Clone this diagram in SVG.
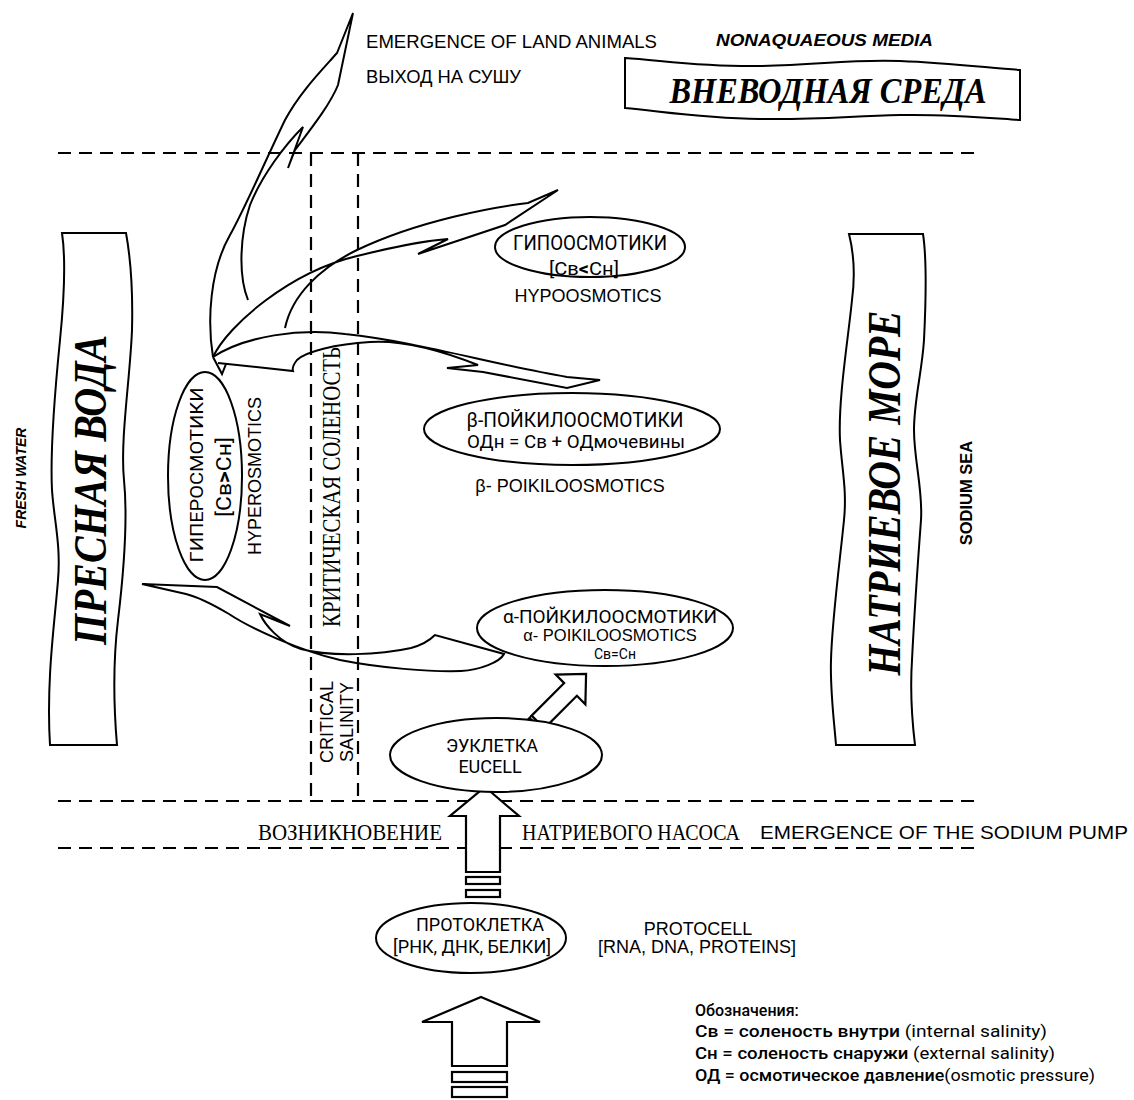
<svg xmlns="http://www.w3.org/2000/svg" width="1134" height="1100" viewBox="0 0 1134 1100">
<defs>
<style>
.ln{fill:none;stroke:#000;stroke-width:2;stroke-linejoin:miter}
.sw{fill:none;stroke:#000;stroke-width:2;stroke-linejoin:miter}
.blk{fill:#fff;stroke:#000;stroke-width:2.2;stroke-linejoin:miter}
.dash{fill:none;stroke:#000;stroke-width:2.2;stroke-dasharray:13 8}
.el{fill:#fff;stroke:#000;stroke-width:2}
.ban{fill:#fff;stroke:#000;stroke-width:2}
.sans{font-family:"Liberation Sans",Arial,sans-serif;fill:#000}
.din{font-family:Roboto,"Liberation Sans",sans-serif;fill:#000}
.serif{font-family:"Liberation Serif","Times New Roman",serif;fill:#000}
.bi{font-weight:bold;font-style:italic}
</style>
</defs>
<rect width="1134" height="1100" fill="#fff"/>

<g id="grid">
<line class="dash" x1="58" y1="153" x2="975" y2="153"/>
<line class="dash" x1="58" y1="801" x2="975" y2="801"/>
<line class="dash" x1="58" y1="848" x2="975" y2="848"/>
<line class="dash" x1="311" y1="153" x2="311" y2="801"/>
<line class="dash" x1="358" y1="153" x2="358" y2="801"/>
</g>

<g id="labels-top">
<text class="sans" x="366" y="48" font-size="18" textLength="291" lengthAdjust="spacingAndGlyphs">EMERGENCE OF LAND ANIMALS</text>
<text class="sans" x="366" y="83" font-size="18" textLength="155" lengthAdjust="spacingAndGlyphs">ВЫХОД НА СУШУ</text>
<text class="sans bi" x="716" y="46" font-size="17" textLength="217" lengthAdjust="spacingAndGlyphs">NONAQUAEOUS MEDIA</text>
</g>

<g id="banner-nonaqueous">
<path class="ban" d="M625,58 C660,60 700,67 760,66 C820,65 850,59 900,61 C950,63 990,68 1020,70 L1020,120 C990,118 950,114 900,115 C850,116 820,120 760,119 C700,118 660,111 625,108 Z"/>
<text class="serif bi" x="828" y="103" font-size="36" text-anchor="middle" textLength="317" lengthAdjust="spacingAndGlyphs">ВНЕВОДНАЯ СРЕДА</text>
</g>

<g id="banner-fresh">
<path class="ban" d="M62,233 C66,260 64,300 60,340 C56,380 50,450 52,490 C54,520 61,545 58,580 C55,620 46,680 50,745 L117,745 C114,710 112,670 118,620 C124,570 128,520 124,480 C120,440 130,380 132,330 C133,290 130,255 126,233 Z"/>
<text class="serif bi" transform="translate(106,490) rotate(-90)" font-size="46" text-anchor="middle" textLength="310" lengthAdjust="spacingAndGlyphs">ПРЕСНАЯ ВОДА</text>
<text class="sans bi" transform="translate(26,478) rotate(-90)" font-size="14" text-anchor="middle">FRESH WATER</text>
</g>

<g id="banner-sea">
<path class="ban" d="M849,234 C853,250 856,270 852,300 C848,340 838,400 840,440 C842,470 847,490 844,520 C840,560 832,620 831,660 C830,690 834,720 836,745 L915,745 C912,720 910,690 912,660 C914,620 918,560 921,520 C923,490 914,460 914,430 C914,400 922,372 924,340 C926,300 927,260 923,234 Z"/>
<text class="serif bi" transform="translate(900,493) rotate(-90)" font-size="46" text-anchor="middle" textLength="365" lengthAdjust="spacingAndGlyphs">НАТРИЕВОЕ МОРЕ</text>
<text class="sans" font-weight="bold" transform="translate(972,493) rotate(-90)" font-size="16.5" text-anchor="middle">SODIUM SEA</text>
</g>

<g id="critical-salinity">
<text class="serif" transform="translate(340,487) rotate(-90)" font-size="26" text-anchor="middle" textLength="280" lengthAdjust="spacingAndGlyphs">КРИТИЧЕСКАЯ СОЛЕНОСТЬ</text>
<text class="sans" transform="translate(333,722) rotate(-90)" font-size="18" text-anchor="middle">CRITICAL</text>
<text class="sans" transform="translate(353,722) rotate(-90)" font-size="18" text-anchor="middle">SALINITY</text>
</g>

<g id="connectors">
<path class="sw" d="M213,357 C207,320 210,270 230,235 C245,208 262,168 285,120 C300,92 322,70 337,53 L353,13 L338,85 C330,105 310,130 295,150 L288,168 L303,127 C285,145 262,175 250,205 C240,235 238,275 248,300"/>
<path class="sw" d="M213,357 C228,325 290,272 357,256 C390,248 420,241 448,239 L418,254 L505,225 L558,190 L528,203 C495,207 420,220 357,250 C320,268 292,295 285,328"/>
<path class="sw" d="M213,357 C245,336 300,328 345,334 C420,342 490,364 567,377 L600,380 L567,388 L483,372 L447,368 L478,365 C440,350 400,340 370,342 C335,344 305,352 297,360 C293,365 292,368 293,371 L218,363 M213,357 L222,374 L226,364"/>
<path class="sw" d="M142,584 L217,587 L290,626 L260,614 C265,625 280,643 301,649 C330,657 380,655 411,648 C422,645 430,640 435,635 L504,654 C500,662 480,670 461,671 C430,672 380,668 340,660 C300,651 250,628 229,614 C212,604 198,597 186,594 Z"/>
<g transform="translate(538,722) rotate(-45)">
<path class="blk" d="M0,-9 L46,-9 L46,-21 L68,0 L46,21 L46,9 L0,9 Z"/>
<path class="ln" d="M-3,-9 L-3,9 M-6,-9 L-6,9 M-9,-9 L-9,9 M-12,-9 L-12,9 M-12,-9 L0,-9 M-12,9 L0,9"/>
</g>
<path class="blk" d="M485,787 L519,816 L500,816 L500,872 L466,872 L466,816 L450,816 Z"/>
<rect class="blk" x="466" y="877" width="34" height="7"/>
<rect class="blk" x="466" y="890" width="34" height="7"/>
<path class="blk" d="M481,997 L540,1022 L507,1022 L507,1066 L452,1066 L452,1022 L422,1022 Z"/>
<rect class="blk" x="452" y="1072" width="55" height="10"/>
<rect class="blk" x="452" y="1087" width="55" height="10"/>
</g>

<g id="node-hypo">
<ellipse class="el" cx="590" cy="247" rx="95" ry="30"/>
<text class="din" x="590" y="250" font-size="20" text-anchor="middle" textLength="154" lengthAdjust="spacingAndGlyphs">ГИПООСМОТИКИ</text>
<text class="din" x="584" y="275" font-size="18" text-anchor="middle" textLength="70" lengthAdjust="spacingAndGlyphs">[Св<tspan font-weight="bold">&lt;</tspan>Сн]</text>
<text class="sans" x="588" y="302" font-size="18" text-anchor="middle">HYPOOSMOTICS</text>
</g>

<g id="node-hyper">
<ellipse class="el" cx="205" cy="476" rx="37" ry="104"/>
<text class="din" transform="translate(203,475) rotate(-90)" font-size="19" text-anchor="middle" textLength="175" lengthAdjust="spacingAndGlyphs">ГИПЕРОСМОТИКИ</text>
<text class="din" transform="translate(231,477) rotate(-90)" font-size="20" text-anchor="middle" textLength="80" lengthAdjust="spacingAndGlyphs">[Св<tspan font-weight="bold">&gt;</tspan>Сн]</text>
<text class="sans" transform="translate(261,476) rotate(-90)" font-size="18" text-anchor="middle">HYPEROSMOTICS</text>
</g>

<g id="node-beta">
<ellipse class="el" cx="572" cy="429" rx="148" ry="36"/>
<text class="din" x="575" y="427" font-size="20" text-anchor="middle" textLength="217" lengthAdjust="spacingAndGlyphs">β-ПОЙКИЛООСМОТИКИ</text>
<text class="din" x="576" y="448" font-size="18" text-anchor="middle" textLength="218" lengthAdjust="spacingAndGlyphs">ОДн = Св + ОДмочевины</text>
<text class="sans" x="570" y="492" font-size="18" text-anchor="middle">β- POIKILOOSMOTICS</text>
</g>

<g id="node-alpha">
<ellipse class="el" cx="605" cy="628" rx="128" ry="38"/>
<text class="din" x="610" y="623" font-size="19" text-anchor="middle">α-ПОЙКИЛООСМОТИКИ</text>
<text class="sans" x="610" y="641" font-size="16.5" text-anchor="middle">α- POIKILOOSMOTICS</text>
<text class="din" x="615" y="659" font-size="14" text-anchor="middle">Св=Сн</text>
</g>

<g id="node-eucell">
<ellipse class="el" cx="496" cy="755" rx="106" ry="37"/>
<text class="din" x="492" y="752" font-size="18" text-anchor="middle">ЭУКЛЕТКА</text>
<text class="din" x="490" y="773" font-size="18" text-anchor="middle">EUCELL</text>
</g>

<g id="node-protocell">
<ellipse class="el" cx="471" cy="938" rx="95" ry="35"/>
<text class="din" x="480" y="931" font-size="18" text-anchor="middle">ПРОТОКЛЕТКА</text>
<text class="din" x="472" y="953" font-size="18" text-anchor="middle">[РНК, ДНК, БЕЛКИ]</text>
<text class="sans" x="698" y="935" font-size="18" text-anchor="middle">PROTOCELL</text>
<text class="sans" x="598" y="953" font-size="18">[RNA, DNA, PROTEINS]</text>
</g>

<g id="label-pump">
<text class="serif" x="258" y="840" font-size="23" textLength="184" lengthAdjust="spacingAndGlyphs">ВОЗНИКНОВЕНИЕ</text>
<text class="serif" x="522" y="840" font-size="23" textLength="218" lengthAdjust="spacingAndGlyphs">НАТРИЕВОГО НАСОСА</text>
<text class="sans" x="760" y="839" font-size="19" textLength="368" lengthAdjust="spacingAndGlyphs">EMERGENCE OF THE SODIUM PUMP</text>
</g>

<g id="legend" font-size="16">
<text class="din" x="695" y="1016" font-weight="500">Обозначения:</text>
<text class="din" x="695" y="1037" textLength="352" lengthAdjust="spacingAndGlyphs"><tspan font-weight="500">Св = соленость внутри</tspan> (internal salinity)</text>
<text class="din" x="695" y="1059" textLength="360" lengthAdjust="spacingAndGlyphs"><tspan font-weight="500">Сн = соленость снаружи</tspan> (external salinity)</text>
<text class="din" x="695" y="1081" textLength="400" lengthAdjust="spacingAndGlyphs"><tspan font-weight="500">ОД = осмотическое давление</tspan>(osmotic pressure)</text>
</g>
</svg>
